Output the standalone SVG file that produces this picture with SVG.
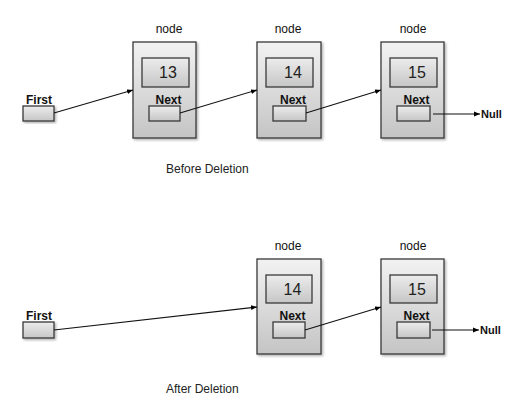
<svg xmlns="http://www.w3.org/2000/svg" width="512" height="402" viewBox="0 0 512 402">
<defs>
<linearGradient id="gNode" x1="0" y1="0" x2="0" y2="1">
<stop offset="0" stop-color="#f2f2f2"/>
<stop offset="1" stop-color="#c4c4c4"/>
</linearGradient>
<linearGradient id="gBox" x1="0" y1="0" x2="0" y2="1">
<stop offset="0" stop-color="#ececec"/>
<stop offset="1" stop-color="#c6c6c6"/>
</linearGradient>
<filter id="sh" x="-10%" y="-10%" width="130%" height="130%">
<feDropShadow dx="1.5" dy="1.5" stdDeviation="1" flood-color="#000" flood-opacity="0.3"/>
</filter>
<marker id="arr" viewBox="0 0 10 10" refX="10" refY="5" markerWidth="6" markerHeight="6" orient="auto" markerUnits="userSpaceOnUse">
<path d="M0,1 L10,5 L0,9 z" fill="#000"/>
</marker>
</defs>
<style>
.node{fill:url(#gNode);stroke:#3a3a3a;stroke-width:1.3;}
.box{fill:url(#gBox);stroke:#3a3a3a;stroke-width:1.3;}
.lbl{font-family:"Liberation Sans",Arial,sans-serif;font-size:12px;fill:#111;text-anchor:middle;}
.b{font-weight:bold;}
.val{font-family:"Liberation Sans",Arial,sans-serif;font-size:16px;fill:#222;text-anchor:middle;}
.cap{font-family:"Liberation Sans",Arial,sans-serif;font-size:12px;fill:#222;}
.con{stroke:#111;stroke-width:1.1;fill:none;marker-end:url(#arr);}
</style>
<rect width="512" height="402" fill="#fff"/>

<!-- Before deletion -->
<g id="first1">
<text class="lbl b" x="39" y="104">First</text>
<rect class="box" x="23" y="106" width="31" height="15" filter="url(#sh)"/>
</g>
<g id="node13">
<text class="lbl" x="169" y="33">node</text>
<rect class="node" x="133" y="42" width="63" height="96" filter="url(#sh)"/>
<rect class="box" x="142" y="58" width="47" height="29"/>
<text class="val" x="168" y="78">13</text>
<text class="lbl b" x="168.5" y="104">Next</text>
<rect class="box" x="149" y="106" width="31" height="15"/>
</g>
<g id="node14a">
<text class="lbl" x="288" y="33">node</text>
<rect class="node" x="257" y="42" width="64" height="96" filter="url(#sh)"/>
<rect class="box" x="266" y="58" width="47" height="29"/>
<text class="val" x="293" y="78">14</text>
<text class="lbl b" x="293" y="104">Next</text>
<rect class="box" x="273" y="106" width="33" height="15"/>
</g>
<g id="node15a">
<text class="lbl" x="413" y="33">node</text>
<rect class="node" x="381" y="42" width="63" height="96" filter="url(#sh)"/>
<rect class="box" x="390" y="58" width="47" height="29"/>
<text class="val" x="417" y="78">15</text>
<text class="lbl b" x="416.5" y="104">Next</text>
<rect class="box" x="397" y="106" width="33" height="15"/>
</g>
<g id="null1">
<text class="lbl b" x="481" y="118" style="text-anchor:start;font-size:11px">Null</text>
</g>
<text class="cap" x="166" y="173">Before Deletion</text>

<!-- After deletion -->
<g id="first2">
<text class="lbl b" x="39" y="320">First</text>
<rect class="box" x="23" y="322" width="31" height="16" filter="url(#sh)"/>
</g>
<g id="node14b">
<text class="lbl" x="288" y="250">node</text>
<rect class="node" x="257" y="259" width="64" height="95" filter="url(#sh)"/>
<rect class="box" x="266" y="275" width="46" height="28"/>
<text class="val" x="292.5" y="295">14</text>
<text class="lbl b" x="292.5" y="320">Next</text>
<rect class="box" x="273" y="322" width="32" height="16"/>
</g>
<g id="node15b">
<text class="lbl" x="413" y="250">node</text>
<rect class="node" x="381" y="259" width="63" height="95" filter="url(#sh)"/>
<rect class="box" x="390" y="275" width="47" height="28"/>
<text class="val" x="417" y="295">15</text>
<text class="lbl b" x="416.5" y="320">Next</text>
<rect class="box" x="397" y="322" width="33" height="16"/>
</g>
<g id="null2">
<text class="lbl b" x="480" y="334" style="text-anchor:start;font-size:11px">Null</text>
</g>
<text class="cap" x="166" y="393">After Deletion</text>

<g id="connectors">
<line class="con" x1="54" y1="113" x2="133" y2="90"/>
<line class="con" x1="180" y1="113" x2="257" y2="90"/>
<line class="con" x1="306" y1="113" x2="381" y2="90"/>
<line class="con" x1="433" y1="114" x2="480" y2="114"/>
<line class="con" x1="54" y1="330" x2="257" y2="307"/>
<line class="con" x1="305" y1="330" x2="381" y2="307"/>
<line class="con" x1="432" y1="330" x2="479" y2="330"/>
</g>
</svg>
